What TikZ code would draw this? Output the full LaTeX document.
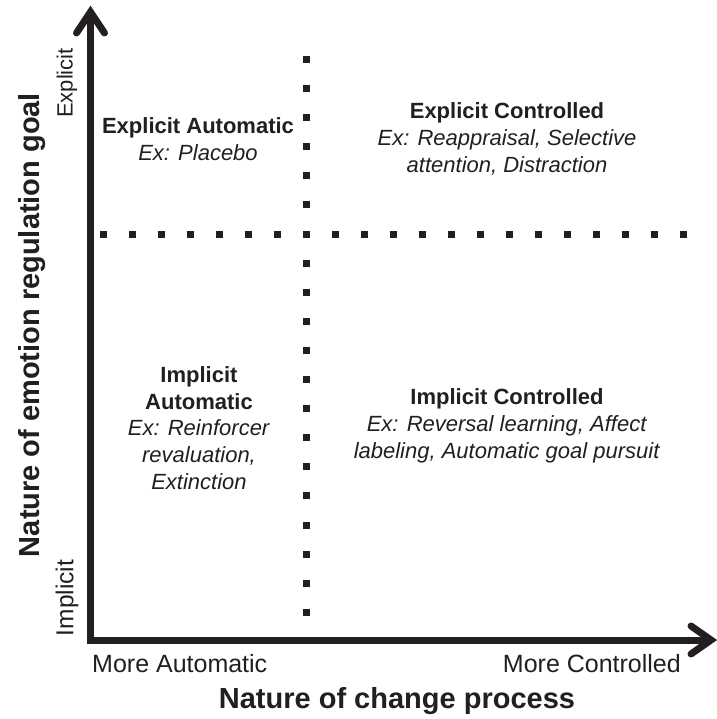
\documentclass[tikz,border=0pt]{standalone}
\usepackage{fontspec}
\setmainfont{Liberation Sans}
\definecolor{ink}{RGB}{35,31,32}
\tikzset{
  axisline/.style={line width=7pt, draw=ink, line join=miter, line cap=butt},
  chevron/.style={line width=7pt, draw=ink, line join=miter, line cap=round},
  dotsq/.style={fill=ink, draw=none},
  quad/.style={align=center, text=ink, inner sep=0pt, font=\fontsize{22}{26.8}\selectfont},
  endlabel/.style={text=ink, inner sep=0pt, font=\fontsize{25}{30}\selectfont},
  sidelabel/.style={text=ink, inner sep=0pt, rotate=90},
  axistitle/.style={text=ink, inner sep=0pt, font=\fontsize{29}{34}\selectfont\bfseries}
}
\begin{document}
\begin{tikzpicture}[x=1pt, y=-1pt]
\useasboundingbox (0,0) rectangle (716,719);
\fill[white] (0,0) rectangle (716,719);
% axes
\coordinate (ytip) at (90.5,12);
\coordinate (origin) at (90.5,640);
\coordinate (xtip) at (711,640);
\draw[axisline] (ytip) -- (origin) -- (xtip);
\draw[axisline] (origin) -- ++(-3.5,0);
\draw[chevron] (76.5,33) -- (ytip) -- (104.5,33);
\draw[chevron] (691,626) -- (xtip) -- (691,654);
% dotted dividers
\foreach \k in {-6,...,13} {
  \fill[dotsq] (306-3.5,{234+\k*29.1-3.5}) rectangle ++(7,7);
}
\foreach \k in {-7,...,13} {
  \fill[dotsq] ({306+\k*29-3.5},234-3.5) rectangle ++(7,7);
}
% quadrant texts
\node[quad] (ea) at (198,139) {\textbf{Explicit Automatic}\\\textit{Ex: Placebo}};
\node[quad] (ec) at (507,139) {\textbf{Explicit Controlled}\\\textit{Ex: Reappraisal, Selective}\\\textit{attention, Distraction}};
\node[quad] (ia) at (199,428) {\textbf{Implicit}\\\textbf{Automatic}\\\textit{Ex: Reinforcer}\\\textit{revaluation,}\\\textit{Extinction}};
\node[quad] (ic) at (507,426) {\textbf{Implicit Controlled}\\\textit{Ex: Reversal learning, Affect}\\\textit{labeling, Automatic goal pursuit}};
% axis end labels
\node[endlabel, anchor=west] (ma) at (92,664) {More Automatic};
\node[endlabel, anchor=east] (mc) at (681,664) {More Controlled};
\node[sidelabel, font=\fontsize{22}{26}\selectfont] (ex) at (67,83) {Explicit};
\node[sidelabel, font=\fontsize{24.5}{28}\selectfont] (im) at (67,598) {Implicit};
% axis titles
\node[axistitle] (xt) at (397,701) {Nature of change process};
\node[axistitle, rotate=90] (yt) at (32,325) {Nature of emotion regulation goal};
\end{tikzpicture}
\end{document}
